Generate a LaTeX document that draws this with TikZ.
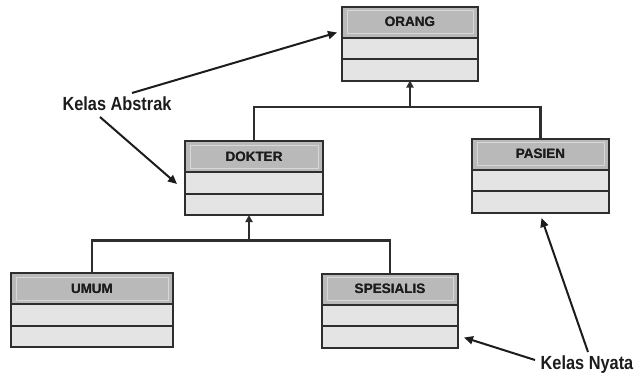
\documentclass[tikz,border=0pt]{standalone}
\usepackage{fontspec}
\setmainfont{Liberation Sans}
\newfontfamily\notefont{Liberation Sans}[FakeStretch=0.86]
\usetikzlibrary{arrows.meta,calc}

\definecolor{boxline}{HTML}{2E2E2E}
\definecolor{headfill}{HTML}{B9B9B9}
\definecolor{rowfill}{HTML}{E4E4E4}
\definecolor{inkdark}{HTML}{1C1C1C}

\tikzset{
  classhead/.style={draw=boxline, line width=2pt, fill=headfill, rectangle,
    minimum height=31pt, inner sep=0pt, outer sep=0pt, text=inkdark,
    font=\bfseries\fontsize{13.5}{13.5}\selectfont},
  classrow/.style={draw=boxline, line width=2pt, fill=rowfill, rectangle,
    minimum height=21.5pt, inner sep=0pt, outer sep=0pt, anchor=north},
  conn/.style={draw=boxline, line width=2.2pt},
  inherit/.style={conn, -{Triangle[length=7pt,width=7pt]}},
  note/.style={draw=inkdark, line width=2pt, -{Triangle[length=9pt,width=8pt]}},
  notetext/.style={text=inkdark, inner sep=0pt, anchor=base,
    font=\notefont\bfseries\fontsize{19}{19}\selectfont},
}

% a class box: header with name plus two empty compartments
\newcommand{\umlclass}[4]{%
  \node[classhead, minimum width=#3] (#1) at #2 {#4};
  \node[classrow, minimum width=#3] (#1-a) at (#1.south) {};
  \node[classrow, minimum width=#3] (#1-b) at (#1-a.south) {};
  \draw[white!45!headfill, line width=0.6pt]
    ($(#1.north west)+(5pt,-4pt)$) rectangle ($(#1.south east)+(-5pt,4pt)$);
  \node[classhead, draw=none, fill=none] at (#1) {#4};
}

\begin{document}
\begin{tikzpicture}[x=1pt, y=-1pt]
  \useasboundingbox (0,0) rectangle (634,372);
  \fill[white] (0,0) rectangle (634,372);

  % classes
  \umlclass{orang}{(410,22)}{136pt}{ORANG}
  \umlclass{dokter}{(254,156.5)}{138pt}{DOKTER}
  \umlclass{pasien}{(540.5,154)}{137pt}{PASIEN}
  \umlclass{umum}{(92,288.5)}{162pt}{UMUM}
  \umlclass{spesialis}{(390,289)}{136pt}{SPESIALIS}

  % inheritance trees
  \coordinate (jtop) at (410,107);
  \coordinate (jmid) at (249,240.5);
  \draw[conn] (dokter.north) |- (jtop) -| (pasien.north);
  \draw[inherit] (jtop) -- (orang-b.south);
  \draw[conn] (umum.north) |- (jmid) -| (spesialis.north);
  \draw[inherit] (jmid) -- (jmid |- dokter-b.south);

  % annotations
  \node[notetext] (abstrak) at (117,110) {Kelas Abstrak};
  \node[notetext] (nyata) at (587,369) {Kelas Nyata};

  \coordinate (abs1) at (132,93);
  \coordinate (abs2) at (100,117);
  \coordinate (tipOrang) at (337,32.5);
  \coordinate (tipDokter) at (177,184);
  \draw[note] (abs1) -- (tipOrang);
  \draw[note] (abs2) -- (tipDokter);

  \coordinate (ny1) at (535,360);
  \coordinate (ny2) at (588,352);
  \coordinate (tipSpes) at (464,337.5);
  \coordinate (tipPasien) at (541.5,218);
  \draw[note] (ny1) -- (tipSpes);
  \draw[note] (ny2) -- (tipPasien);
\end{tikzpicture}
\end{document}
